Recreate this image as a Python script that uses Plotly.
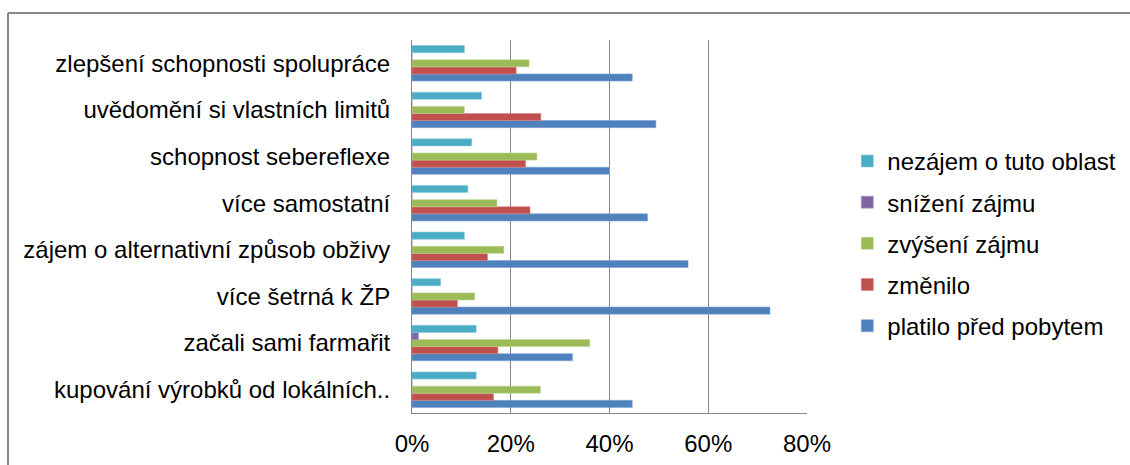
import plotly.graph_objects as go

# Categories listed bottom-to-top (Plotly draws the first category at the bottom)
categories = [
    "kupování výrobků od lokálních..",
    "začali sami farmařit",
    "více šetrná k ŽP",
    "zájem o alternativní způsob obživy",
    "více samostatní",
    "schopnost sebereflexe",
    "uvědomění si vlastních limitů",
    "zlepšení schopnosti spolupráce",
]

# Shares of respondents (fractions), same order as categories
platilo = [0.446, 0.325, 0.725, 0.559, 0.477, 0.400, 0.494, 0.446]
zmenilo = [0.165, 0.174, 0.092, 0.153, 0.239, 0.230, 0.261, 0.211]
zvyseni = [0.260, 0.360, 0.127, 0.186, 0.172, 0.253, 0.106, 0.237]
snizeni = [0.000, 0.013, 0.000, 0.000, 0.000, 0.000, 0.000, 0.000]
nezajem = [0.130, 0.130, 0.058, 0.106, 0.113, 0.121, 0.141, 0.106]

series = [
    ("platilo před pobytem", platilo, "#4F81BD", "#7EA3D3"),
    ("změnilo", zmenilo, "#C0504D", "#D88583"),
    ("zvýšení zájmu", zvyseni, "#9BBB59", "#BDD38F"),
    ("snížení zájmu", snizeni, "#8064A2", "#A894C0"),
    ("nezájem o tuto oblast", nezajem, "#4BACC6", "#84C9DB"),
]

x_ticks = [0, 0.2, 0.4, 0.6, 0.8]
x_ticktext = ["0%", "20%", "40%", "60%", "80%"]

FONT = "Liberation Sans, Arial, sans-serif"

fig = go.Figure()
n = len(series)
for i, (name, values, color, edge) in enumerate(series):
    fig.add_trace(go.Bar(
        y=categories,
        x=values,
        name=name,
        orientation="h",
        legendgroup=f"g{i}",
        legendrank=n - i,  # legend lists the last series first
        marker=dict(color=color, line=dict(color=edge, width=0.6)),
    ))

fig.update_layout(
    width=1130,
    height=465,
    barmode="group",
    bargap=0.24,
    bargroupgap=0,
    plot_bgcolor="white",
    paper_bgcolor="white",
    margin=dict(l=412, r=323, t=40, b=52, autoexpand=False),
    font=dict(family=FONT, size=24, color="black"),
    xaxis=dict(
        range=[0, 0.8],
        tickvals=x_ticks,
        ticktext=x_ticktext,
        showgrid=True,
        gridcolor="#868686",
        gridwidth=1,
        showline=True,
        linecolor="#868686",
        linewidth=1,
        mirror=False,
        zeroline=False,
        ticks="",
        ticklabelstandoff=9,
        tickfont=dict(size=24),
        fixedrange=True,
    ),
    yaxis=dict(
        showgrid=False,
        showline=True,
        linecolor="#868686",
        linewidth=1,
        ticks="",
        ticklabelstandoff=16,
        tickfont=dict(size=24),
        fixedrange=True,
    ),
    legend=dict(
        x=1.102,
        y=0.735,
        xanchor="left",
        yanchor="top",
        traceorder="grouped",
        tracegroupgap=7,
        font=dict(size=24, color="black"),
        bgcolor="rgba(0,0,0,0)",
    ),
    shapes=[
        # outer chart frame: top and left edges
        dict(type="line", xref="paper", yref="paper",
             x0=-1.0228, x1=1.82, y0=1.0724, y1=1.0724,
             line=dict(color="#888888", width=2)),
        dict(type="line", xref="paper", yref="paper",
             x0=-1.0228, x1=-1.0228, y0=1.0724, y1=-0.2,
             line=dict(color="#888888", width=2)),
    ],
)

fig.write_html("out.html")
